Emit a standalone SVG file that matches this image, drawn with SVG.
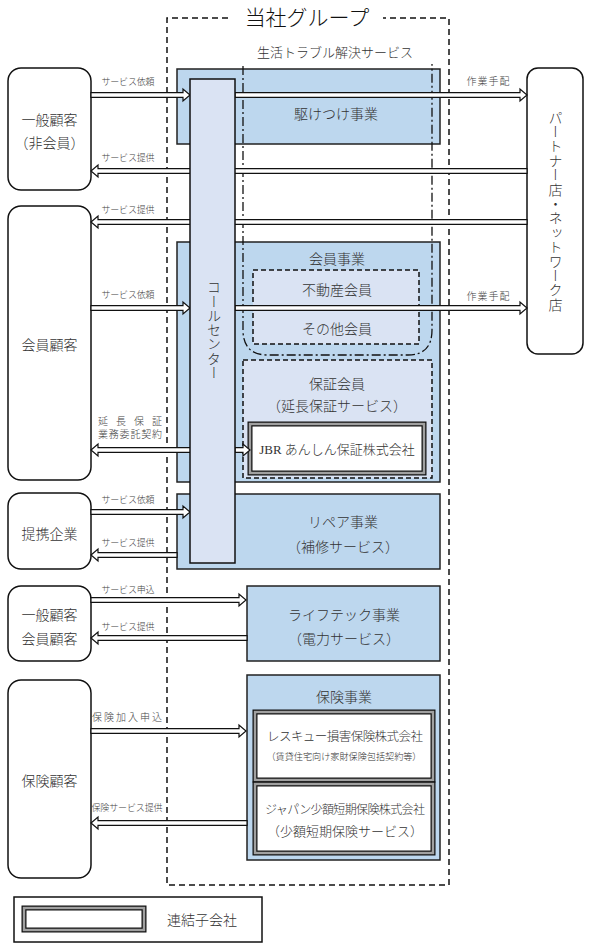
<svg xmlns="http://www.w3.org/2000/svg" width="590" height="949" viewBox="0 0 590 949">
<style>
.blue{fill:#bdd7ee;stroke:#222;stroke-width:1.5}
.cc{fill:#dae3f3;stroke:#111;stroke-width:1.5}
.inner{fill:#dae3f3;stroke:#111;stroke-width:1.5;stroke-dasharray:5 3}
.cust{fill:#fff;stroke:#111;stroke-width:1.5}
.grp{fill:none;stroke:#111;stroke-width:1.5;stroke-dasharray:6 4}
.dd{fill:none;stroke:#111;stroke-width:1.3;stroke-dasharray:9 3 2 3}
.arr{fill:#fff;stroke:#111;stroke-width:1.2}
.d1{fill:#fff;stroke:#111;stroke-width:5}
.d2{fill:none;stroke:#a0a0a0;stroke-width:2.5}
.t{font-family:"Liberation Serif","Noto Sans CJK JP",serif;font-weight:300;fill:#333;font-size:14px;text-anchor:middle}
.s{font-size:9px;fill:#444}
.v{writing-mode:vertical-rl}
</style>

<g id="group-frame">
<path class="grp" d="M228,18 H167 V885 H449 V18 H383"/>
<text class="t" x="307" y="25" style="font-size:21px;fill:#111">当社グループ</text>
<text class="t" x="335" y="57" style="font-size:13px">生活トラブル解決サービス</text>
</g>

<g id="kaketsuke">
<rect class="blue" x="177" y="69" width="263" height="75"/>
<text class="t" x="336" y="119">駆けつけ事業</text>
</g>

<g id="kaiin-jigyo">
<rect class="blue" x="177" y="242" width="263" height="240"/>
<text class="t" x="337" y="264">会員事業</text>
</g>
<g id="fudosan-sonota">
<rect class="inner" x="253" y="270" width="166" height="74"/>
<text class="t" x="337" y="295">不動産会員</text>
<text class="t" x="337" y="334">その他会員</text>
</g>
<g id="hosho-kaiin">
<rect class="inner" x="243" y="360" width="189" height="118"/>
<text class="t" x="337" y="389">保証会員</text>
<text class="t" x="337" y="411">（延長保証サービス）</text>
</g>
<g id="jbr">
<rect class="d1" x="250" y="424" width="174" height="49"/>
<rect class="d2" x="250" y="424" width="174" height="49"/>
<text class="t" x="337" y="454" style="font-size:13px">JBR あんしん保証株式会社</text>
</g>

<g id="repair">
<rect class="blue" x="177" y="494" width="263" height="75"/>
<text class="t" x="343" y="527">リペア事業</text>
<text class="t" x="343" y="552">（補修サービス）</text>
</g>

<g id="lifetech">
<rect class="blue" x="247" y="586" width="193" height="75"/>
<text class="t" x="344" y="620">ライフテック事業</text>
<text class="t" x="344" y="644">（電力サービス）</text>
</g>

<g id="hoken-jigyo">
<rect class="blue" x="247" y="675" width="193" height="185"/>
<text class="t" x="344" y="702">保険事業</text>
</g>
<g id="rescue">
<rect class="d1" x="255" y="712" width="178" height="68"/>
<rect class="d2" x="255" y="712" width="178" height="68"/>
<text class="t" x="345" y="741" style="font-size:12.5px" textLength="156">レスキュー損害保険株式会社</text>
<text class="t" x="344" y="760" style="font-size:9.5px" textLength="155" lengthAdjust="spacingAndGlyphs">（賃貸住宅向け家財保険包括契約等）</text>
</g>
<g id="japan">
<rect class="d1" x="255" y="784" width="178" height="69"/>
<rect class="d2" x="255" y="784" width="178" height="69"/>
<text class="t" x="345" y="814" style="font-size:12px" textLength="160">ジャパン少額短期保険株式会社</text>
<text class="t" x="345" y="836" style="font-size:13px">（少額短期保険サービス）</text>
</g>

<g id="dashdot-line">
<path class="dd" d="M243,66 V330 Q243,355 268,355 H408 Q432,355 432,330 V64"/>
</g>

<g id="customer-general">
<rect class="cust" x="8" y="68" width="83" height="122" rx="13"/>
<text class="t" x="49.5" y="125">一般顧客</text>
<text class="t" x="49.5" y="148">（非会員）</text>
</g>
<g id="customer-member">
<rect class="cust" x="8" y="206" width="83" height="274" rx="13"/>
<text class="t" x="49.5" y="350">会員顧客</text>
</g>
<g id="partner-company">
<rect class="cust" x="8" y="493" width="83" height="76" rx="13"/>
<text class="t" x="49.5" y="539">提携企業</text>
</g>
<g id="customer-general-member">
<rect class="cust" x="8" y="586" width="83" height="75" rx="13"/>
<text class="t" x="49.5" y="620">一般顧客</text>
<text class="t" x="49.5" y="644">会員顧客</text>
</g>
<g id="customer-insurance">
<rect class="cust" x="8" y="680" width="83" height="198" rx="13"/>
<text class="t" x="49.5" y="786">保険顧客</text>
</g>
<g id="partner-shop">
<rect class="cust" x="527" y="68" width="56" height="286" rx="11"/>
<text class="t v" x="554" y="211" style="letter-spacing:0.4px">パートナー店・ネットワーク店</text>
</g>

<g id="connectors">
<polygon class="arr" points="91,92.7 183,92.7 183,89 190,95 183,101 183,97.3 91,97.3"/>
<polygon class="arr" points="235,92.7 520,92.7 520,89 527,95 520,101 520,97.3 235,97.3"/>
<polygon class="arr" points="527,168.7 98,168.7 98,165 91,171 98,177 98,173.3 527,173.3"/>
<polygon class="arr" points="527,219.7 98,219.7 98,216 91,222 98,228 98,224.3 527,224.3"/>
<polygon class="arr" points="91,305.7 183,305.7 183,302 190,308 183,314 183,310.3 91,310.3"/>
<polygon class="arr" points="235,305.7 520,305.7 520,302 527,308 520,314 520,310.3 235,310.3"/>
<polygon class="arr" points="200,447.7 98,447.7 98,444 91,450 98,456 98,452.3 200,452.3"/>
<polygon class="arr" points="235,447.7 243,447.7 243,444 250,450 243,456 243,452.3 235,452.3"/>
<polygon class="arr" points="91,509.7 183,509.7 183,506 190,512 183,518 183,514.3 91,514.3"/>
<polygon class="arr" points="177,552.7 98,552.7 98,549 91,555 98,561 98,557.3 177,557.3"/>
<polygon class="arr" points="91,597.7 239,597.7 239,594 246,600 239,606 239,602.3 91,602.3"/>
<polygon class="arr" points="247,635.7 98,635.7 98,632 91,638 98,644 98,640.3 247,640.3"/>
<polygon class="arr" points="91,728.7 239,728.7 239,725 246,731 239,737 239,733.3 91,733.3"/>
<polygon class="arr" points="247,820.7 98,820.7 98,817 91,823 98,829 98,825.3 247,825.3"/>
<g class="t s">
<text x="128" y="85" textLength="53">サービス依頼</text>
<text x="128" y="161" textLength="53">サービス提供</text>
<text x="128" y="213" textLength="53">サービス提供</text>
<text x="128" y="298" textLength="53">サービス依頼</text>
<text x="130" y="425" textLength="64" style="font-size:10px">延長保証</text>
<text x="130" y="438" textLength="64" style="font-size:10px">業務委託契約</text>
<text x="128" y="503" textLength="53">サービス依頼</text>
<text x="128" y="546" textLength="53">サービス提供</text>
<text x="128" y="593" textLength="53">サービス申込</text>
<text x="128" y="630" textLength="53">サービス提供</text>
<text x="127" y="721" textLength="70" style="font-size:10px">保険加入申込</text>
<text x="127" y="811" textLength="71">保険サービス提供</text>
<text x="488" y="85" textLength="43" style="font-size:10px">作業手配</text>
<text x="488" y="300" textLength="43" style="font-size:10px">作業手配</text>
</g>
</g>

<g id="call-center">
<rect class="cc" x="190" y="79" width="45" height="484"/>
<text class="t v" x="212.5" y="330" style="letter-spacing:0.3px">コールセンター</text>
</g>

<g id="legend">
<rect x="14" y="897" width="248" height="45" fill="#fff" stroke="#111" stroke-width="1.5"/>
<rect class="d1" x="24" y="908" width="120" height="22"/>
<rect class="d2" x="24" y="908" width="120" height="22"/>
<text class="t" x="167" y="925" style="text-anchor:start">連結子会社</text>
</g>
</svg>
